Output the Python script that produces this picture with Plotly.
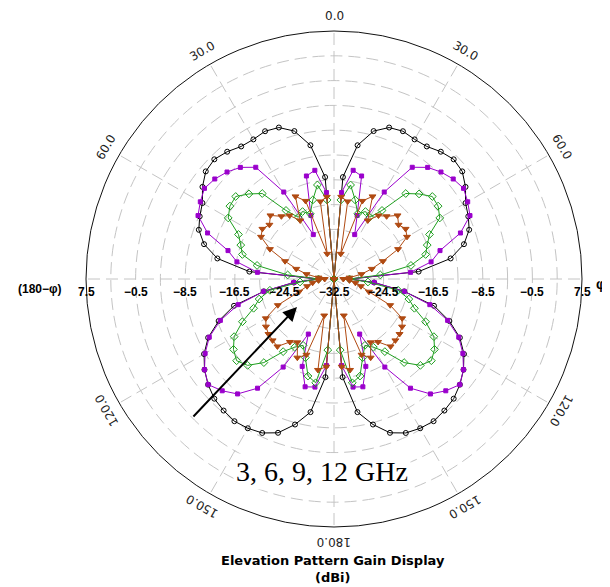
import math
import plotly.graph_objects as go

# page body has an 8px margin, so the figure is 8px smaller and all
# reference pixel positions are shifted by OFF
OFF = 8
W, H = 610 - OFF, 587 - OFF
CX, CY, R = 334 - OFF, 279 - OFF, 248
RMIN, RMAX = -32.5, 7.5

# phi (deg) on the right half, mirrored (180-phi side) on the left half
phi = [0, 5, 10, 15, 20, 25, 30, 35, 40, 45, 50, 55, 60, 65, 70, 75, 80, 85, 90,
       95, 100, 105, 110, 115, 120, 125, 130, 135, 140, 145, 150, 155, 160, 165, 170, 175, 180]

gain_3ghz = [-32.5, -16.0, -10.6, -7.8, -6.5, -6.2, -6.5, -6.4, -5.7, -5.2, -5.5, -6.6, -8.0, -8.6, -9.3, -10.8, -13.4, -18.8, -30.0,
             -26.0, -21.0, -15.8, -12.7, -10.1, -8.3, -7.0, -6.0, -5.2, -4.8, -4.5, -4.7, -5.1, -6.1, -8.2, -10.7, -16.6, -32.5]
gain_6ghz = [-32.5, -18.5, -14.7, -15.3, -21.6, -24.6, -16.3, -10.5, -9.0, -8.1, -7.4, -7.0, -7.6, -8.3, -10.8, -14.8, -16.6, -20.1, -30.0,
             -26.0, -21.0, -16.5, -13.0, -10.3, -8.5, -7.0, -6.0, -7.0, -8.3, -11.0, -16.1, -22.7, -17.5, -14.5, -14.8, -18.5, -32.5]
gain_9ghz = [-32.5, -19.7, -17.1, -19.3, -21.3, -20.5, -21.0, -19.0, -14.5, -13.1, -11.8, -12.0, -12.8, -15.5, -16.5, -17.2, -19.9, -25.0, -30.0,
             -27.0, -22.0, -20.0, -18.7, -16.2, -13.9, -12.7, -12.0, -12.8, -14.9, -18.2, -19.8, -20.7, -19.0, -16.3, -15.5, -21.0, -32.5]
gain_12ghz = [-32.5, -19.2, -19.8, -28.3, -19.1, -17.8, -21.6, -20.0, -19.3, -18.0, -18.9, -18.4, -18.9, -21.1, -24.1, -26.2, -28.0, -30.0, -31.0,
              -30.0, -29.0, -28.0, -26.5, -22.5, -19.8, -19.1, -18.7, -18.5, -18.3, -20.1, -20.7, -18.5, -19.5, -26.4, -17.6, -18.3, -32.5]

radial_ticks = [7.5, -0.5, -8.5, -16.5, -24.5, -32.5]
angle_labels = [0, 30, 60, 120, 150, 180]

series = [
    ("3 GHz", gain_3ghz, "black", "circle-open", 5),
    ("6 GHz", gain_6ghz, "#9A00CC", "square", 4),
    ("9 GHz", gain_9ghz, "#1E9E1E", "diamond-open", 6),
    ("12 GHz", gain_12ghz, "#B04A12", "triangle-down", 6),
]

fig = go.Figure()
for name, vals, col, sym, ms in series:
    theta = list(phi) + [360 - p for p in reversed(phi)]
    r = list(vals) + list(reversed(vals))
    fig.add_trace(go.Scatterpolar(
        r=r, theta=theta, mode="lines+markers", name=name,
        line=dict(color=col, width=1),
        marker=dict(symbol=sym, size=ms, color=col, line=dict(color=col, width=1)),
        showlegend=False))

x0 = (CX - R) / W
x1 = (CX + R) / W
y0 = (H - CY - R) / H
y1 = (H - CY + R) / H

fig.update_layout(
    width=W, height=H,
    margin=dict(l=0, r=0, t=0, b=0),
    paper_bgcolor="white",
    polar=dict(
        domain=dict(x=[x0, x1], y=[y0, y1]),
        bgcolor="white",
        radialaxis=dict(range=[RMIN, RMAX], tick0=RMIN, dtick=4,
                        showticklabels=False, ticks="", showline=False,
                        gridcolor="#c4c4c4", griddash="12px,6px", gridwidth=1),
        angularaxis=dict(rotation=90, direction="clockwise", dtick=30,
                         showticklabels=False, ticks="",
                         showline=True, linecolor="#111111", linewidth=1,
                         gridcolor="#c4c4c4", griddash="12px,6px", gridwidth=1),
    ),
)


def px(x):
    return x / W


def py(y):
    return (H - y) / H


ann = []
# radial tick labels along the horizontal axis, both sides
for side in (-1, 1):
    for v in radial_ticks:
        if side == 1 and v == RMIN:
            continue
        xp = CX + side * (v - RMIN) / (RMAX - RMIN) * R
        ann.append(dict(x=px(xp), y=py(CY + 13), xref="paper", yref="paper",
                        text=f"{v:.1f}".replace("-", "\u2212"), showarrow=False,
                        font=dict(family="Arial, Liberation Sans", size=12, color="black", weight="bold"),
                        xanchor="center", yanchor="middle"))

LR = 263
for a in angle_labels:
    sides = (1,) if a in (0, 180) else (1, -1)
    for s in sides:
        ang = math.radians(a)
        xp = CX + s * LR * math.sin(ang)
        yp = CY - LR * math.cos(ang)
        ann.append(dict(x=px(xp), y=py(yp), xref="paper", yref="paper",
                        text=f"{a:.1f}", showarrow=False, textangle=s * a,
                        font=dict(family="DejaVu Sans", size=12, color="#222222"),
                        xanchor="center", yanchor="middle"))

ann.append(dict(x=px(601 - OFF), y=py(284 - OFF), xref="paper", yref="paper", text="\u03c6",
                showarrow=False, xanchor="center", yanchor="middle",
                font=dict(family="Arial, Liberation Sans", size=14, color="black", weight="bold")))
ann.append(dict(x=px(40 - OFF), y=py(289 - OFF), xref="paper", yref="paper", text="(180\u2212\u03c6)",
                showarrow=False, xanchor="center", yanchor="middle",
                font=dict(family="Arial, Liberation Sans", size=12, color="black", weight="bold")))

ann.append(dict(x=px(322 - OFF), y=py(471 - OFF), xref="paper", yref="paper", text="3, 6, 9, 12 GHz",
                showarrow=False, bgcolor="white", borderpad=2, xanchor="center", yanchor="middle",
                font=dict(family="Liberation Serif, Times New Roman, serif", size=28, color="black")))

ann.append(dict(x=px(297 - OFF), y=py(307 - OFF), xref="paper", yref="paper", text="",
                showarrow=True, ax=-105, ay=111, arrowhead=2, arrowsize=1.4, arrowwidth=2,
                arrowcolor="black"))

ann.append(dict(x=px(333 - OFF), y=py(569 - OFF), xref="paper", yref="paper",
                text="Elevation Pattern Gain Display<br>(dBi)", showarrow=False,
                font=dict(family="DejaVu Sans", size=13, color="black", weight="bold"),
                xanchor="center", yanchor="middle"))

fig.update_layout(annotations=ann)
fig.write_html("out.html")
